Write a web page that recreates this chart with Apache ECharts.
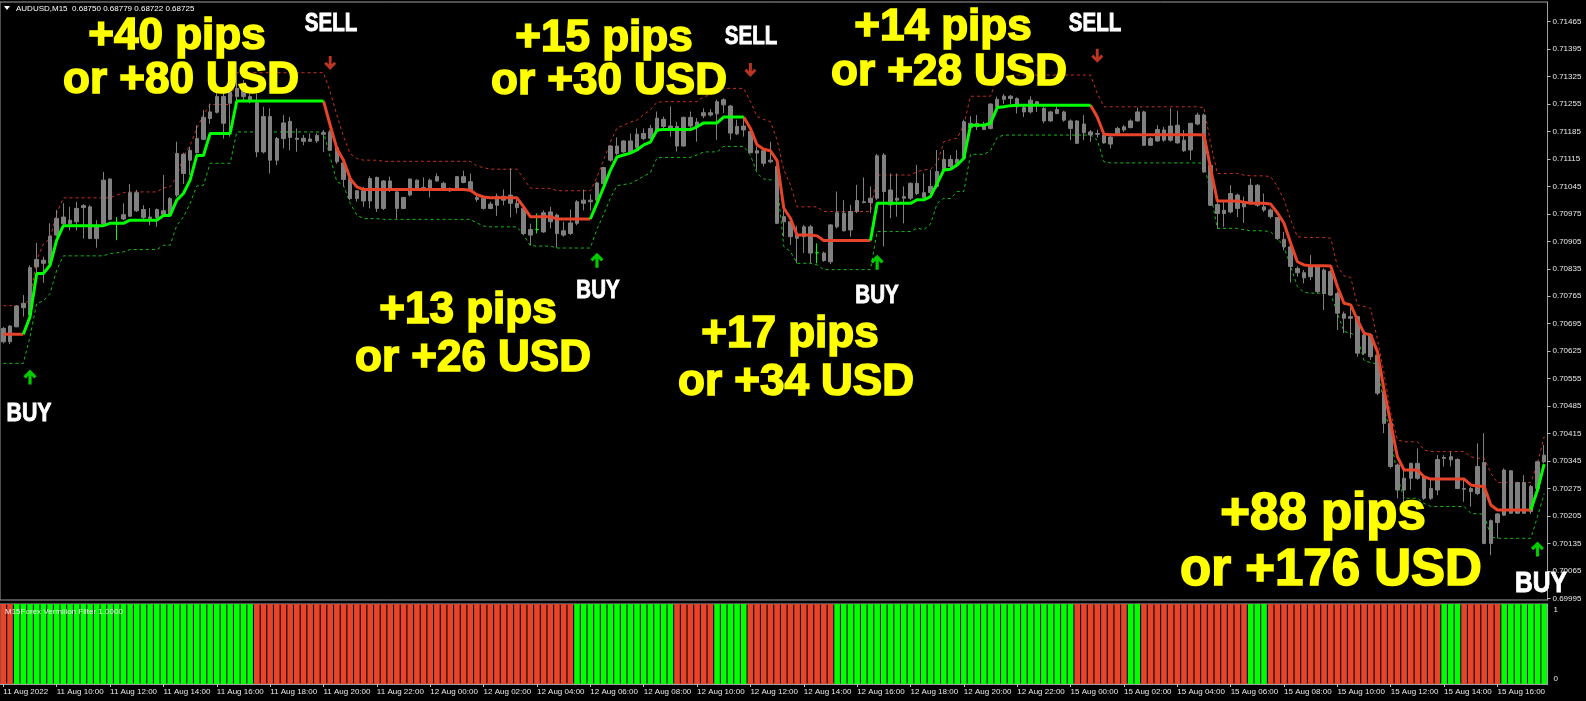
<!DOCTYPE html>
<html><head><meta charset="utf-8">
<script src="https://cdn.jsdelivr.net/npm/echarts@6/dist/echarts.min.js"></script>
<style>html,body{margin:0;padding:0;background:#000;}#c{width:1586px;height:701px;}</style>
</head><body><div id="c"></div>
<script>
// ---------- DATA ----------
const timeLabels = ["11 Aug 2022","11 Aug 10:00","11 Aug 12:00","11 Aug 14:00","11 Aug 16:00","11 Aug 18:00","11 Aug 20:00","11 Aug 22:00",
"12 Aug 00:00","12 Aug 02:00","12 Aug 04:00","12 Aug 06:00","12 Aug 08:00","12 Aug 10:00","12 Aug 12:00","12 Aug 14:00","12 Aug 16:00",
"12 Aug 18:00","12 Aug 20:00","12 Aug 22:00","15 Aug 00:00","15 Aug 02:00","15 Aug 04:00","15 Aug 06:00","15 Aug 08:00","15 Aug 10:00",
"15 Aug 12:00","15 Aug 14:00","15 Aug 16:00"];
const priceTicks = [0.69995,0.70065,0.70135,0.70205,0.70275,0.70345,0.70415,0.70485,0.70555,0.70625,0.70695,0.70765,0.70835,0.70905,0.70975,0.71045,0.71115,0.71185,0.71255,0.71325,0.71395,0.71465];

const opens = [
0.70683,0.70649,0.70687,0.70736,0.70717,0.70840,0.70857,0.70849,0.70921,0.70950,
0.70959,0.70955,0.70996,0.70993,0.70912,0.70950,0.71064,0.70950,0.70962,0.70969,
0.71029,0.70986,0.70967,0.70966,0.70983,0.70972,0.71023,0.71127,0.71112,0.71131,
0.71165,0.71218,0.71234,0.71274,0.71257,0.71274,0.71299,0.71274,0.71258,0.71133,
0.71223,0.71112,0.71167,0.71211,0.71168,0.71160,0.71166,0.71161,0.71182,0.71184,
0.71144,0.71105,0.71065,0.71014,0.71034,0.71008,0.71068,0.70989,0.71059,0.71031,
0.70989,0.71023,0.71061,0.71042,0.71040,0.71059,0.71053,0.71040,0.71040,0.71070,
0.71057,0.71017,0.71014,0.70989,0.70997,0.71020,0.71023,0.71002,0.70989,0.70935,
0.70935,0.70929,0.70980,0.70972,0.70921,0.70925,0.70951,0.71010,0.71006,0.71010,
0.71052,0.71112,0.71129,0.71161,0.71133,0.71144,0.71167,0.71168,0.71185,0.71216,
0.71199,0.71198,0.71148,0.71221,0.71199,0.71225,0.71233,0.71230,0.71253,0.71250,
0.71179,0.71189,0.71185,0.71136,0.71136,0.71108,0.71096,0.70955,0.70955,0.70921,
0.70917,0.70942,0.70876,0.70875,0.70853,0.70942,0.70977,0.70934,0.70981,0.71006,
0.71004,0.71015,0.71125,0.71036,0.71010,0.71019,0.71015,0.71053,0.71029,0.71029,
0.71045,0.71087,0.71114,0.71104,0.71117,0.71206,0.71197,0.71201,0.71193,0.71248,
0.71267,0.71275,0.71269,0.71246,0.71235,0.71261,0.71244,0.71212,0.71231,0.71235,
0.71212,0.71155,0.71204,0.71184,0.71180,0.71176,0.71153,0.71180,0.71189,0.71195,
0.71212,0.71235,0.71150,0.71161,0.71189,0.71163,0.71201,0.71163,0.71138,0.71204,
0.71227,0.71099,0.70999,0.70976,0.70980,0.71023,0.71002,0.71003,0.71048,0.70993,
0.70985,0.70966,0.70910,0.70891,0.70825,0.70825,0.70815,0.70841,0.70772,0.70828,
0.70772,0.70709,0.70713,0.70713,0.70620,0.70666,0.70615,0.70522,0.70441,0.70335,
0.70271,0.70301,0.70339,0.70305,0.70250,0.70271,0.70354,0.70348,0.70349,0.70275,
0.70275,0.70262,0.70341,0.70135,0.70188,0.70207,0.70320,0.70212,0.70290,0.70216,
0.70275,0.70343];
const closes = [
0.70649,0.70689,0.70740,0.70747,0.70838,0.70859,0.70849,0.70918,0.70963,0.70967,
0.70950,0.70989,0.70991,0.70912,0.70942,0.71061,0.70961,0.70950,0.70973,0.71029,
0.70983,0.70966,0.70963,0.70986,0.70974,0.71014,0.71129,0.71078,0.71137,0.71167,
0.71221,0.71235,0.71274,0.71206,0.71286,0.71295,0.71274,0.71265,0.71133,0.71223,
0.71112,0.71167,0.71207,0.71170,0.71165,0.71168,0.71160,0.71175,0.71178,0.71137,
0.71108,0.71063,0.71014,0.71034,0.71008,0.71065,0.70989,0.71059,0.71036,0.70989,
0.71017,0.71064,0.71040,0.71037,0.71061,0.71070,0.71040,0.71034,0.71070,0.71055,
0.71034,0.71012,0.70989,0.71000,0.71020,0.71010,0.71002,0.70991,0.70925,0.70921,
0.70935,0.70978,0.70955,0.70925,0.70932,0.70952,0.71006,0.71002,0.71010,0.71054,
0.71093,0.71148,0.71148,0.71133,0.71161,0.71178,0.71180,0.71193,0.71219,0.71198,
0.71192,0.71148,0.71221,0.71199,0.71209,0.71233,0.71227,0.71261,0.71266,0.71181,
0.71198,0.71199,0.71131,0.71130,0.71104,0.71112,0.70951,0.70968,0.70917,0.70913,
0.70942,0.70875,0.70876,0.70856,0.70947,0.70978,0.70932,0.70981,0.71009,0.71004,
0.71015,0.71123,0.71032,0.70998,0.71015,0.71015,0.71053,0.71027,0.71017,0.71045,
0.71083,0.71114,0.71096,0.71114,0.71210,0.71195,0.71206,0.71190,0.71255,0.71267,
0.71275,0.71269,0.71248,0.71235,0.71265,0.71255,0.71212,0.71235,0.71241,0.71214,
0.71193,0.71212,0.71182,0.71176,0.71178,0.71156,0.71171,0.71193,0.71197,0.71212,
0.71235,0.71150,0.71167,0.71190,0.71163,0.71199,0.71156,0.71136,0.71206,0.71227,
0.71082,0.70997,0.70976,0.70984,0.71027,0.70989,0.70993,0.71048,0.70997,0.70985,
0.70968,0.70912,0.70891,0.70841,0.70836,0.70812,0.70841,0.70777,0.70832,0.70768,
0.70722,0.70720,0.70709,0.70620,0.70666,0.70611,0.70518,0.70441,0.70331,0.70271,
0.70301,0.70339,0.70301,0.70250,0.70275,0.70349,0.70352,0.70356,0.70275,0.70273,
0.70267,0.70331,0.70135,0.70193,0.70210,0.70322,0.70212,0.70290,0.70212,0.70280,
0.70343,0.70360];
const lows = [
0.70645,0.70643,0.70687,0.70713,0.70713,0.70823,0.70799,0.70847,0.70917,0.70942,
0.70933,0.70933,0.70912,0.70911,0.70889,0.70942,0.70959,0.70908,0.70959,0.70967,
0.70980,0.70961,0.70946,0.70942,0.70972,0.70967,0.71018,0.71051,0.71074,0.71129,
0.71163,0.71205,0.71231,0.71167,0.71172,0.71265,0.71261,0.71257,0.71120,0.71129,
0.71078,0.71099,0.71142,0.71137,0.71133,0.71150,0.71159,0.71156,0.71133,0.71136,
0.71103,0.71044,0.71010,0.71006,0.70993,0.70989,0.70980,0.70985,0.71031,0.70963,
0.70987,0.71020,0.71034,0.71033,0.71017,0.71057,0.71034,0.71031,0.71038,0.71053,
0.71031,0.71006,0.70986,0.70987,0.70970,0.70997,0.70966,0.70976,0.70921,0.70895,
0.70925,0.70927,0.70938,0.70889,0.70917,0.70921,0.70946,0.70984,0.70984,0.71006,
0.71051,0.71108,0.71125,0.71131,0.71131,0.71137,0.71163,0.71159,0.71181,0.71193,
0.71172,0.71134,0.71147,0.71193,0.71159,0.71219,0.71223,0.71164,0.71232,0.71164,
0.71176,0.71172,0.71130,0.71087,0.71096,0.71104,0.70949,0.70917,0.70896,0.70849,
0.70875,0.70849,0.70849,0.70853,0.70847,0.70938,0.70930,0.70917,0.70977,0.71002,
0.70977,0.71010,0.70892,0.70964,0.70968,0.70951,0.71010,0.71023,0.71015,0.71019,
0.71040,0.71083,0.71091,0.71096,0.71112,0.71193,0.71189,0.71189,0.71190,0.71244,
0.71255,0.71255,0.71231,0.71222,0.71231,0.71235,0.71206,0.71210,0.71229,0.71210,
0.71163,0.71153,0.71163,0.71159,0.71170,0.71154,0.71142,0.71176,0.71184,0.71193,
0.71210,0.71148,0.71148,0.71159,0.71159,0.71159,0.71154,0.71133,0.71112,0.71201,
0.71080,0.70995,0.70938,0.70942,0.70976,0.70967,0.70952,0.71000,0.70993,0.70980,
0.70963,0.70908,0.70882,0.70800,0.70815,0.70798,0.70806,0.70772,0.70730,0.70766,
0.70679,0.70671,0.70658,0.70611,0.70615,0.70603,0.70513,0.70416,0.70326,0.70250,
0.70220,0.70271,0.70297,0.70246,0.70246,0.70258,0.70331,0.70331,0.70273,0.70241,
0.70229,0.70258,0.70133,0.70105,0.70148,0.70205,0.70210,0.70210,0.70210,0.70210,
0.70271,0.70339];
const highs = [
0.70687,0.70691,0.70742,0.70768,0.70844,0.70901,0.70866,0.70951,0.70985,0.71002,
0.70993,0.71006,0.71000,0.70997,0.70959,0.71082,0.71065,0.70967,0.71002,0.71051,
0.71036,0.70997,0.70990,0.70989,0.71074,0.71018,0.71159,0.71131,0.71146,0.71201,
0.71240,0.71256,0.71289,0.71291,0.71316,0.71363,0.71316,0.71282,0.71282,0.71248,
0.71244,0.71171,0.71227,0.71222,0.71193,0.71176,0.71180,0.71180,0.71189,0.71189,
0.71150,0.71112,0.71070,0.71036,0.71044,0.71071,0.71070,0.71061,0.71070,0.71034,
0.71018,0.71065,0.71063,0.71068,0.71065,0.71078,0.71057,0.71042,0.71071,0.71085,
0.71078,0.71023,0.71017,0.71006,0.71027,0.71037,0.71091,0.71012,0.70993,0.70950,
0.70976,0.70984,0.70993,0.70976,0.70955,0.70986,0.71010,0.71037,0.71025,0.71057,
0.71095,0.71150,0.71170,0.71163,0.71180,0.71193,0.71193,0.71202,0.71236,0.71223,
0.71249,0.71210,0.71223,0.71236,0.71219,0.71244,0.71242,0.71266,0.71270,0.71253,
0.71215,0.71223,0.71187,0.71147,0.71138,0.71159,0.71100,0.70985,0.70960,0.70944,
0.70947,0.70947,0.70900,0.70879,0.70949,0.71032,0.71010,0.70998,0.71049,0.71068,
0.71045,0.71128,0.71130,0.71078,0.71078,0.71045,0.71055,0.71100,0.71078,0.71087,
0.71138,0.71138,0.71125,0.71138,0.71215,0.71224,0.71227,0.71210,0.71257,0.71274,
0.71280,0.71278,0.71272,0.71252,0.71275,0.71263,0.71248,0.71238,0.71248,0.71238,
0.71216,0.71214,0.71227,0.71189,0.71190,0.71180,0.71176,0.71197,0.71201,0.71216,
0.71246,0.71238,0.71171,0.71201,0.71197,0.71244,0.71238,0.71189,0.71207,0.71233,
0.71231,0.71104,0.71006,0.71006,0.71048,0.71027,0.71019,0.71065,0.71051,0.71027,
0.70989,0.70967,0.70929,0.70896,0.70841,0.70832,0.70870,0.70845,0.70836,0.70832,
0.70777,0.70726,0.70739,0.70715,0.70671,0.70671,0.70620,0.70526,0.70445,0.70339,
0.70322,0.70341,0.70377,0.70309,0.70301,0.70360,0.70360,0.70369,0.70352,0.70301,
0.70279,0.70390,0.70416,0.70196,0.70212,0.70326,0.70322,0.70292,0.70309,0.70284,
0.70346,0.70386];

const filterLine = [
0.70668,0.70668,0.70668,0.70668,0.70713,0.70823,0.70823,0.70844,0.70908,0.70945,
0.70945,0.70945,0.70945,0.70945,0.70945,0.70945,0.70951,0.70951,0.70951,0.70959,
0.70959,0.70959,0.70959,0.70959,0.70971,0.70971,0.71010,0.71027,0.71061,0.71124,
0.71124,0.71180,0.71180,0.71180,0.71180,0.71263,0.71263,0.71263,0.71263,0.71263,
0.71263,0.71263,0.71263,0.71263,0.71263,0.71263,0.71263,0.71263,0.71263,0.71201,
0.71142,0.71112,0.71065,0.71044,0.71037,0.71037,0.71037,0.71037,0.71037,0.71037,
0.71037,0.71037,0.71037,0.71037,0.71037,0.71037,0.71037,0.71037,0.71037,0.71037,
0.71035,0.71024,0.71018,0.71016,0.71016,0.71016,0.71016,0.71016,0.70993,0.70968,
0.70968,0.70968,0.70968,0.70962,0.70962,0.70962,0.70962,0.70962,0.70962,0.71002,
0.71043,0.71086,0.71120,0.71125,0.71130,0.71138,0.71151,0.71158,0.71189,0.71190,
0.71190,0.71190,0.71190,0.71190,0.71197,0.71207,0.71207,0.71207,0.71222,0.71222,
0.71222,0.71222,0.71193,0.71151,0.71140,0.71136,0.71111,0.70990,0.70964,0.70921,
0.70921,0.70921,0.70919,0.70907,0.70907,0.70907,0.70907,0.70907,0.70907,0.70907,
0.70907,0.71002,0.71002,0.71002,0.71002,0.71002,0.71002,0.71011,0.71011,0.71019,
0.71053,0.71087,0.71089,0.71100,0.71117,0.71201,0.71201,0.71201,0.71206,0.71246,
0.71248,0.71251,0.71252,0.71252,0.71252,0.71252,0.71252,0.71252,0.71252,0.71252,
0.71252,0.71252,0.71252,0.71252,0.71222,0.71178,0.71177,0.71177,0.71177,0.71177,
0.71177,0.71177,0.71177,0.71177,0.71177,0.71177,0.71177,0.71177,0.71177,0.71177,
0.71176,0.71091,0.71008,0.71008,0.71008,0.71008,0.71005,0.71002,0.71002,0.71002,
0.71000,0.70978,0.70951,0.70900,0.70853,0.70845,0.70843,0.70843,0.70843,0.70842,
0.70790,0.70747,0.70743,0.70705,0.70671,0.70666,0.70624,0.70526,0.70441,0.70356,
0.70322,0.70322,0.70322,0.70305,0.70299,0.70299,0.70299,0.70299,0.70299,0.70299,
0.70284,0.70281,0.70281,0.70233,0.70220,0.70220,0.70220,0.70220,0.70220,0.70220,
0.70271,0.70337];
const upperBand = [
0.70741,0.70741,0.70741,0.70741,0.70759,0.70857,0.70898,0.70912,0.70976,0.71016,
0.71016,0.71016,0.71016,0.71016,0.71016,0.71016,0.71016,0.71023,0.71029,0.71031,
0.71031,0.71031,0.71031,0.71031,0.71041,0.71044,0.71070,0.71121,0.71150,0.71193,
0.71227,0.71254,0.71254,0.71254,0.71254,0.71335,0.71335,0.71335,0.71335,0.71335,
0.71335,0.71335,0.71335,0.71335,0.71335,0.71335,0.71335,0.71335,0.71335,0.71286,
0.71227,0.71172,0.71129,0.71116,0.71112,0.71112,0.71112,0.71109,0.71109,0.71109,
0.71109,0.71109,0.71109,0.71109,0.71109,0.71109,0.71109,0.71109,0.71109,0.71109,
0.71109,0.71097,0.71093,0.71089,0.71089,0.71089,0.71089,0.71089,0.71065,0.71041,
0.71040,0.71040,0.71040,0.71034,0.71034,0.71034,0.71034,0.71034,0.71034,0.71069,
0.71112,0.71158,0.71194,0.71201,0.71209,0.71214,0.71228,0.71240,0.71260,0.71261,
0.71261,0.71261,0.71261,0.71261,0.71261,0.71274,0.71278,0.71291,0.71295,0.71295,
0.71295,0.71295,0.71261,0.71223,0.71216,0.71210,0.71164,0.71087,0.71049,0.70993,
0.70993,0.70993,0.70993,0.70981,0.70981,0.70981,0.70981,0.70981,0.70981,0.70981,
0.70981,0.71074,0.71074,0.71074,0.71074,0.71074,0.71074,0.71083,0.71087,0.71089,
0.71104,0.71159,0.71164,0.71168,0.71202,0.71275,0.71275,0.71275,0.71275,0.71323,
0.71320,0.71327,0.71329,0.71329,0.71329,0.71329,0.71329,0.71329,0.71329,0.71329,
0.71329,0.71329,0.71329,0.71329,0.71282,0.71248,0.71248,0.71248,0.71248,0.71248,
0.71248,0.71248,0.71248,0.71248,0.71248,0.71248,0.71248,0.71248,0.71248,0.71248,
0.71246,0.71155,0.71078,0.71078,0.71078,0.71078,0.71074,0.71072,0.71072,0.71072,
0.71070,0.71045,0.71011,0.70960,0.70917,0.70915,0.70915,0.70915,0.70915,0.70913,
0.70841,0.70817,0.70813,0.70743,0.70739,0.70734,0.70655,0.70569,0.70467,0.70399,
0.70394,0.70394,0.70394,0.70373,0.70369,0.70369,0.70369,0.70369,0.70369,0.70369,
0.70356,0.70352,0.70352,0.70314,0.70290,0.70290,0.70290,0.70290,0.70290,0.70290,
0.70339,0.70407];
const lowerBand = [
0.70594,0.70594,0.70594,0.70594,0.70662,0.70747,0.70753,0.70772,0.70832,0.70868,
0.70868,0.70868,0.70868,0.70868,0.70868,0.70868,0.70874,0.70876,0.70878,0.70884,
0.70884,0.70884,0.70884,0.70884,0.70895,0.70895,0.70946,0.70967,0.71002,0.71046,
0.71048,0.71104,0.71104,0.71104,0.71104,0.71184,0.71184,0.71184,0.71184,0.71184,
0.71184,0.71184,0.71184,0.71184,0.71184,0.71184,0.71184,0.71184,0.71184,0.71120,
0.71057,0.71048,0.71002,0.70972,0.70963,0.70963,0.70963,0.70961,0.70961,0.70961,
0.70961,0.70961,0.70961,0.70961,0.70961,0.70961,0.70961,0.70961,0.70961,0.70961,
0.70961,0.70952,0.70944,0.70942,0.70942,0.70942,0.70942,0.70942,0.70921,0.70894,
0.70893,0.70893,0.70893,0.70888,0.70888,0.70888,0.70888,0.70888,0.70888,0.70936,
0.70974,0.71015,0.71047,0.71050,0.71052,0.71061,0.71071,0.71080,0.71118,0.71119,
0.71119,0.71119,0.71119,0.71119,0.71125,0.71133,0.71133,0.71133,0.71147,0.71147,
0.71147,0.71147,0.71125,0.71079,0.71064,0.71062,0.71058,0.70892,0.70879,0.70849,
0.70849,0.70849,0.70845,0.70833,0.70833,0.70833,0.70833,0.70833,0.70833,0.70833,
0.70833,0.70930,0.70930,0.70930,0.70930,0.70930,0.70930,0.70939,0.70935,0.70949,
0.71002,0.71015,0.71014,0.71032,0.71032,0.71127,0.71127,0.71127,0.71136,0.71170,
0.71176,0.71176,0.71176,0.71176,0.71176,0.71176,0.71176,0.71176,0.71176,0.71176,
0.71176,0.71176,0.71176,0.71176,0.71163,0.71108,0.71105,0.71105,0.71105,0.71105,
0.71105,0.71105,0.71105,0.71105,0.71105,0.71105,0.71105,0.71105,0.71105,0.71105,
0.71104,0.71027,0.70938,0.70938,0.70938,0.70938,0.70935,0.70932,0.70932,0.70932,
0.70929,0.70913,0.70891,0.70841,0.70790,0.70775,0.70773,0.70773,0.70773,0.70771,
0.70722,0.70675,0.70671,0.70662,0.70601,0.70596,0.70592,0.70484,0.70407,0.70305,
0.70250,0.70250,0.70250,0.70237,0.70229,0.70229,0.70229,0.70229,0.70229,0.70229,
0.70212,0.70210,0.70210,0.70152,0.70148,0.70148,0.70148,0.70148,0.70148,0.70148,
0.70203,0.70262];

// filter line colour runs: [state (1 = up/green, 0 = down/red), number of bars]
const filterTrendRuns = [[0,4],[1,45],[0,40],[1,23],[0,19],[1,33],[0,66],[1,2]];
// lower-panel "Vermilion Filter" histogram runs: [state, number of bars]
const vermilionRuns = [[0,2],[1,36],[0,48],[1,15],[0,6],[1,5],[0,13],[1,36],[0,8],[1,2],[0,16],[1,3],[0,26],[1,3],[0,6],[1,7]];
// signal arrows: [bar index, price]
const buySignals = [[4,0.70559],[89,0.70857],[131,0.70852],[230,0.70121]];
const sellSignals = [[49,0.71360],[112,0.71342],[164,0.71378]];

// ---------- BUILD ----------
const cats = opens.map((_, i) => String(i));
const candles = opens.map((o, i) => [o, closes[i], lows[i], highs[i]]);
function expand(runs){const out=[];runs.forEach(r=>{for(let k=0;k<r[1];k++)out.push(r[0]);});return out;}
const trend = expand(filterTrendRuns);
const verm = expand(vermilionRuns);
const greenLine = filterLine.map((v,i)=> (trend[i]===1 || trend[i+1]===1) ? v : null);
const redLine = filterLine.map((v,i)=> (trend[i]===0 || trend[i+1]===0) ? v : null);
const GREEN = '#00ff00', RED = '#e8442a';
const histData = verm.map(s => ({value: 1, itemStyle: {color: s ? GREEN : RED}}));

const UIFONT = '"Liberation Sans", Arial, sans-serif';
const gridRight = 1586 - 1547.5;

const chart = echarts.init(document.getElementById('c'), null, {renderer: 'canvas'});

function yellow(text, x, y, size){
  return {type:'text', x:x, y:y, z:100, style:{text:text, fill:'#ffff00', stroke:'#ffff00', lineWidth:1.6, font:'bold '+size+'px '+UIFONT, align:'center', verticalAlign:'middle'}};
}
function white(text, x, y, size){
  return {type:'text', x:x, y:y, z:100, scaleX:0.82, style:{text:text, fill:'#ffffff', stroke:'#ffffff', lineWidth:0.9, font:'bold '+size+'px '+UIFONT, align:'center', verticalAlign:'middle'}};
}
const arrowPath = 'path://M7,0 L14,7 L11.6,9.4 L8.7,6.5 L8.7,16 L5.3,16 L5.3,6.5 L2.4,9.4 L0,7 Z';

chart.setOption({
  backgroundColor: '#000000',
  animation: false,
  grid: [
    {left: 0, right: gridRight, top: 2, height: 598, show: true, borderColor: '#a0a0a0', borderWidth: 1, backgroundColor: 'transparent'},
    {left: 0, right: gridRight, top: 604, height: 80, show: true, borderColor: '#a0a0a0', borderWidth: 1, backgroundColor: 'transparent'}
  ],
  xAxis: [
    {type:'category', gridIndex:0, data:cats, boundaryGap:true, axisLine:{show:false}, axisTick:{show:false}, axisLabel:{show:false}, splitLine:{show:false}},
    {type:'category', gridIndex:1, data:cats, boundaryGap:true,
     axisLine:{show:true, lineStyle:{color:'#a0a0a0'}},
     axisTick:{show:true, interval:7, alignWithLabel:true, length:3, lineStyle:{color:'#c0c0c0'}},
     axisLabel:{interval:7, align:'left', margin:4, color:'#e8e8e8', fontSize:8, fontFamily:UIFONT,
       formatter:(v, idx) => timeLabels[Math.round(idx/8)] || ''},
     splitLine:{show:false}}
  ],
  yAxis: [
    {type:'value', gridIndex:0, position:'right', min:0.699907, max:0.715152, scale:true,
     axisLine:{show:true, lineStyle:{color:'#a0a0a0'}},
     axisTick:{show:true, length:3, customValues:priceTicks, lineStyle:{color:'#c0c0c0'}},
     axisLabel:{customValues:priceTicks, formatter:(v)=>v.toFixed(5), color:'#e8e8e8', fontSize:8, fontFamily:UIFONT, margin:5},
     splitLine:{show:false}},
    {type:'value', gridIndex:1, position:'right', min:0, max:1,
     axisLine:{show:true, lineStyle:{color:'#a0a0a0'}},
     axisTick:{show:false},
     axisLabel:{customValues:[0.06,0.93], formatter:(v)=> v > 0.5 ? '1' : '0', color:'#e8e8e8', fontSize:8, fontFamily:UIFONT, margin:6},
     splitLine:{show:false}}
  ],
  series: [
    {type:'line', name:'upper', xAxisIndex:0, yAxisIndex:0, data:upperBand, symbol:'none', z:2,
     lineStyle:{color:'#c8301e', width:1, type:[3,3]}},
    {type:'line', name:'lower', xAxisIndex:0, yAxisIndex:0, data:lowerBand, symbol:'none', z:2,
     lineStyle:{color:'#10c010', width:1, type:[3,3]}},
    {type:'candlestick', name:'AUDUSD', xAxisIndex:0, yAxisIndex:0, data:candles, barWidth:4, z:3,
     itemStyle:{color:'#808080', color0:'#808080', borderColor:'#808080', borderColor0:'#808080', borderColorDoji:GREEN, borderWidth:1}},
    {type:'line', name:'filterDown', xAxisIndex:0, yAxisIndex:0, data:redLine, symbol:'none', connectNulls:false, z:4,
     lineStyle:{color:RED, width:3}},
    {type:'line', name:'filterUp', xAxisIndex:0, yAxisIndex:0, data:greenLine, symbol:'none', connectNulls:false, z:4,
     lineStyle:{color:GREEN, width:3}},
    {type:'scatter', name:'buy', xAxisIndex:0, yAxisIndex:0, data:buySignals, symbol:arrowPath, symbolSize:[13,15], z:5,
     itemStyle:{color:GREEN}},
    {type:'scatter', name:'sell', xAxisIndex:0, yAxisIndex:0, data:sellSignals, symbol:arrowPath, symbolSize:[12,14], symbolRotate:180, z:5,
     itemStyle:{color:RED}},
    {type:'bar', name:'vermilion', xAxisIndex:1, yAxisIndex:1, data:histData, barCategoryGap:'16%', z:2}
  ],
  graphic: [
    {type:'polygon', x:4, y:6, z:100, shape:{points:[[0,0],[6,0],[3,4]]}, style:{fill:'#ffffff'}},
    {type:'text', x:16, y:9, z:100, style:{text:'AUDUSD,M15  0.68750 0.68779 0.68722 0.68725', fill:'#ffffff', font:'8px '+UIFONT, verticalAlign:'middle'}},
    {type:'text', x:5, y:612, z:100, style:{text:'M15Forex Vermilion Filter 1.0000', fill:'#f0f0f0', font:'8px '+UIFONT, verticalAlign:'middle'}},
    yellow('+40 pips', 177, 37, 44), yellow('or +80 USD', 181, 81, 44),
    yellow('+15 pips', 604, 39, 44), yellow('or +30 USD', 609, 82, 44),
    yellow('+14 pips', 943, 28, 44), yellow('or +28 USD', 949, 73, 44),
    yellow('+13 pips', 468, 311, 44), yellow('or +26 USD', 473, 359, 44),
    yellow('+17 pips', 790, 335, 44), yellow('or +34 USD', 796, 383, 44),
    yellow('+88 pips', 1323, 515, 51), yellow('or +176 USD', 1331, 571, 51),
    white('SELL', 331, 24, 25), white('SELL', 751, 37, 25), white('SELL', 1095, 24, 25),
    white('BUY', 598, 291, 25), white('BUY', 877, 296, 25), white('BUY', 29, 414, 26), white('BUY', 1541, 584, 30)
  ]
});
</script>
</body></html>
